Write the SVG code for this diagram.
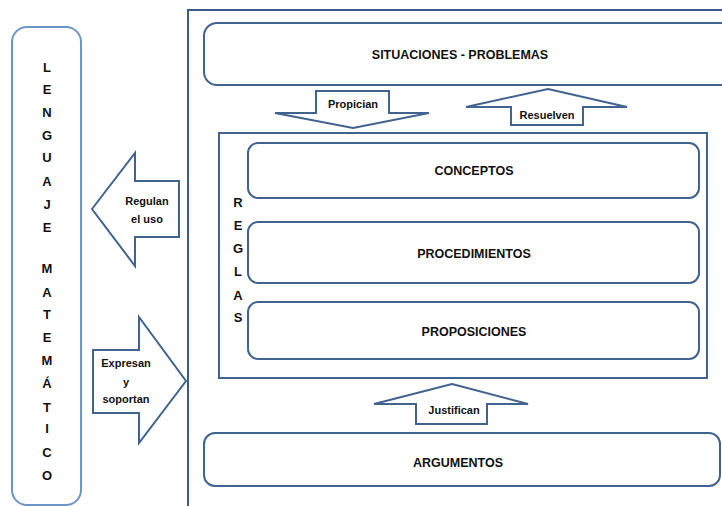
<svg xmlns="http://www.w3.org/2000/svg" width="722" height="506" viewBox="0 0 722 506">
  <style>
    .box { fill: #ffffff; stroke: #41638f; stroke-width: 2; }
    .side { fill: #ffffff; stroke: #6d95c8; stroke-width: 2; }
    .frame { fill: none; stroke: #3b5b86; stroke-width: 2; }
    .arrow { fill: #ffffff; stroke: #41638f; stroke-width: 2; stroke-linejoin: miter; }
    .t { font-family: "Liberation Sans", Arial, sans-serif; font-weight: bold; fill: #111111; text-anchor: middle; }
    .big { font-size: 12.5px; }
    .small { font-size: 11px; }
    .letter { font-size: 13px; }
  </style>

  <rect width="722" height="506" fill="#ffffff"/>

  <!-- outer frame: left and top edges -->
  <path class="frame" d="M188,506 V10 H722"/>

  <!-- left column -->
  <g id="lenguaje-matematico">
    <rect class="side" x="12" y="27" width="69" height="478" rx="15"/>
    <g class="t letter">
      <text x="47" y="72">L</text>
      <text x="47" y="94">E</text>
      <text x="47" y="117">N</text>
      <text x="47" y="140">G</text>
      <text x="47" y="162">U</text>
      <text x="47" y="186">A</text>
      <text x="47" y="209">J</text>
      <text x="47" y="232">E</text>
      <text x="47" y="273">M</text>
      <text x="47" y="297">A</text>
      <text x="47" y="319">T</text>
      <text x="47" y="342">E</text>
      <text x="47" y="365">M</text>
      <text x="47" y="388">Á</text>
      <text x="47" y="412">T</text>
      <text x="47" y="433">I</text>
      <text x="47" y="457">C</text>
      <text x="47" y="480">O</text>
    </g>
  </g>

  <g id="situaciones-problemas">
    <rect class="box" x="204" y="23" width="530" height="62" rx="13"/>
    <text class="t big" x="460" y="59">SITUACIONES - PROBLEMAS</text>
  </g>

  <g id="reglas">
    <rect class="box" x="219" y="133" width="488" height="245"/>
    <g class="t letter">
      <text x="238" y="207">R</text>
      <text x="238" y="230">E</text>
      <text x="238" y="253">G</text>
      <text x="238" y="276">L</text>
      <text x="238" y="300">A</text>
      <text x="238" y="322">S</text>
    </g>
  </g>

  <g id="conceptos">
    <rect class="box" x="248" y="143" width="451" height="55" rx="10"/>
    <text class="t big" x="474" y="175">CONCEPTOS</text>
  </g>

  <g id="procedimientos">
    <rect class="box" x="248" y="222" width="451" height="61" rx="10"/>
    <text class="t big" x="474" y="258">PROCEDIMIENTOS</text>
  </g>

  <g id="proposiciones">
    <rect class="box" x="248" y="302" width="451" height="57" rx="10"/>
    <text class="t big" x="474" y="336">PROPOSICIONES</text>
  </g>

  <g id="argumentos">
    <rect class="box" x="204" y="433" width="516" height="53" rx="11"/>
    <text class="t big" x="458" y="467">ARGUMENTOS</text>
  </g>

  <!-- block arrows linking the boxes -->
  <g id="connectors">
    <g id="propician">
      <path class="arrow" d="M316,91 H389 V113 H429 L353,128 L275,113 H316 Z"/>
      <text class="t small" x="353" y="108">Propician</text>
    </g>
    <g id="resuelven">
      <path class="arrow" d="M548,89 L627,107 H583 V125 H511 V107 H466 Z"/>
      <text class="t small" x="547" y="119">Resuelven</text>
    </g>
    <g id="justifican">
      <path class="arrow" d="M452,384 L528,404 H487 V424 H416 V404 H374 Z"/>
      <text class="t small" x="454" y="414">Justifican</text>
    </g>
    <g id="regulan">
      <path class="arrow" d="M92,209 L135,153 V181 H179 V237 H135 V266 Z"/>
      <text class="t small" x="147" y="205">Regulan</text>
      <text class="t small" x="147" y="223">el uso</text>
    </g>
    <g id="expresan">
      <path class="arrow" d="M93,350 H139 V317 L186,381 L139,443 V413 H93 Z"/>
      <text class="t small" x="126" y="367">Expresan</text>
      <text class="t small" x="126" y="386">y</text>
      <text class="t small" x="126" y="403">soportan</text>
    </g>
  </g>
</svg>
